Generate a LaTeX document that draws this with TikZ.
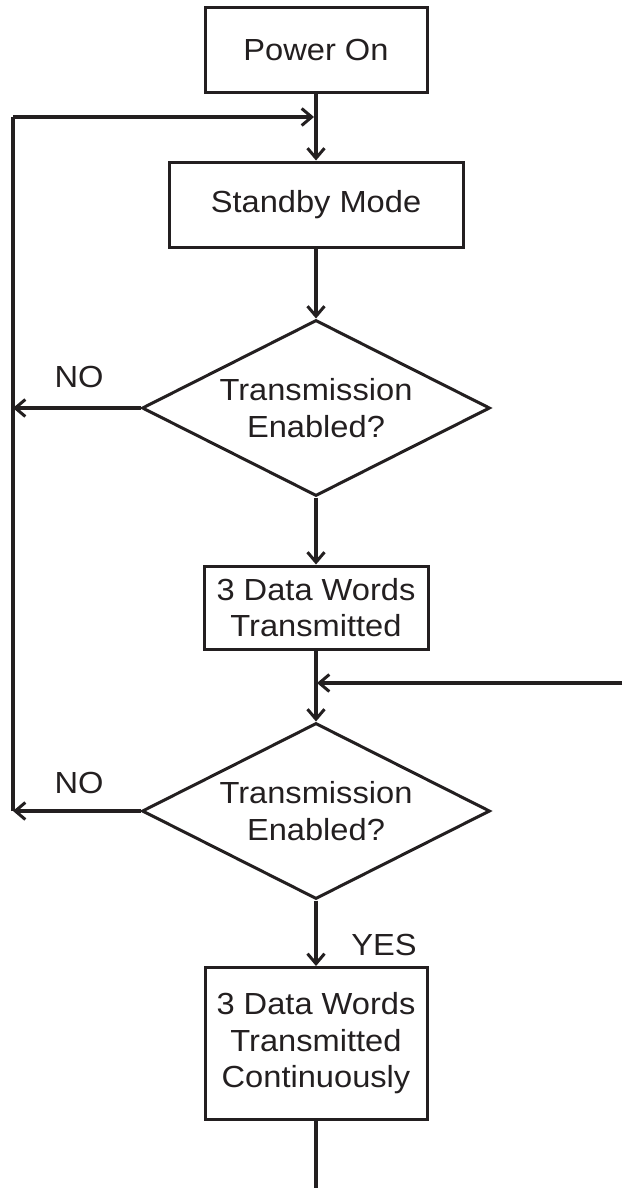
\documentclass[tikz,border=0pt]{standalone}
\usepackage{fontspec}
\setmainfont{Liberation Sans}[FakeStretch=1.07]
\usetikzlibrary{arrows.meta,shapes.geometric}
\definecolor{ink}{HTML}{231F20}
\begin{document}
\begin{tikzpicture}[x=1pt,y=-1pt,
  line width=3.2pt, draw=ink, text=ink,
  every node/.style={font=\fontsize{30.5}{36.5}\selectfont, align=center, inner sep=0pt},
  box/.style={draw=ink, rectangle, line width=3pt},
  dia/.style={draw=ink, diamond, shape aspect=1.98, line width=3pt, minimum width=348pt, minimum height=176pt},
  arr/.style={-{Straight Barb[length=10pt,width=17pt,line width=3pt]}},
  lbl/.style={font=\fontsize{30.5}{36}\selectfont}]
\useasboundingbox (0,0) rectangle (622,1188);
\node[box, minimum width=222pt, minimum height=85pt] (pwr) at (316,50.5) {Power On};
\node[box, minimum width=294pt, minimum height=85pt] (stby) at (316,204.5) {Standby Mode};
\node[dia] (d1) at (316,408) {Transmission\\Enabled?};
\node[box, minimum width=224pt, minimum height=83pt] (b3) at (316,607.5) {3 Data Words\\Transmitted};
\node[dia] (d2) at (316,811) {Transmission\\Enabled?};
\node[box, minimum width=222pt, minimum height=152pt] (b4) at (316,1043.5) {3 Data Words\\Transmitted\\Continuously};
\node[lbl] (no1) at (79,377) {NO};
\node[lbl] (no2) at (79,783) {NO};
\node[lbl] (yes) at (384,945) {YES};
\coordinate (ltop) at (13,117);
\coordinate (lbot) at (13,811);
\coordinate (jtop) at (316,117);
\coordinate (rin) at (622,683);
\coordinate (bend) at (316,1188);
\draw[arr] (pwr.south) -- (stby.north);
\draw (lbot) -- (ltop);
\draw[arr, shorten >=2pt] (ltop) -- (jtop);
\draw[arr] (stby.south) -- (d1.north);
\draw[arr] (d1.west) -- (d1.west -| ltop);
\draw[arr] (d1.south) -- (b3.north);
\draw[arr] (b3.south) -- (d2.north);
\draw[arr, shorten >=1pt] (rin) -- (rin -| d2.north);
\draw[arr] (d2.west) -- (lbot);
\draw[arr] (d2.south) -- (b4.north);
\draw (b4.south) -- (bend);
\end{tikzpicture}
\end{document}
